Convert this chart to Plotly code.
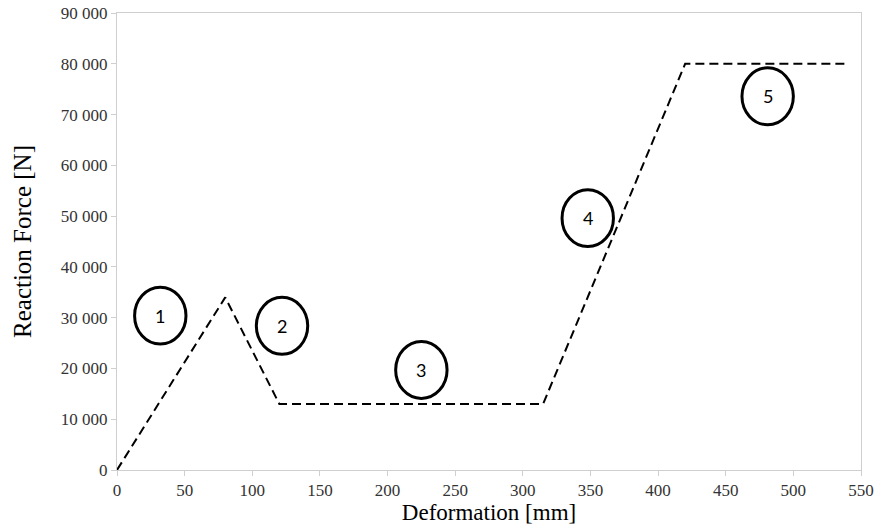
import plotly.graph_objects as go

deformation_mm = [0, 80, 120, 315, 420, 540]
reaction_force_n = [0, 34000, 13000, 13000, 80000, 80000]

phase_labels = ["1", "2", "3", "4", "5"]
phase_x = [32, 122, 225, 348, 481]
phase_y = [30400, 28400, 19700, 49600, 73600]

x_ticks = [0, 50, 100, 150, 200, 250, 300, 350, 400, 450, 500, 550]
y_ticks = [0, 10000, 20000, 30000, 40000, 50000, 60000, 70000, 80000, 90000]

SERIF = "Liberation Serif, Times New Roman, serif"

fig = go.Figure()
fig.add_trace(go.Scatter(
    x=deformation_mm, y=reaction_force_n, mode="lines",
    line=dict(color="black", width=2, dash="9px,5px"),
    showlegend=False, hoverinfo="skip"))

rx, ry = 19, 5600
for lab, cx, cy in zip(phase_labels, phase_x, phase_y):
    fig.add_shape(type="circle", xref="x", yref="y",
                  x0=cx - rx, x1=cx + rx, y0=cy - ry, y1=cy + ry,
                  line=dict(color="black", width=3))
    fig.add_annotation(x=cx, y=cy, text=lab, showarrow=False,
                       font=dict(family="Lato, Liberation Sans", size=18, color="black"))

axis_common = dict(showline=True, linecolor="#cfcfcf", linewidth=1, mirror=True,
                   showgrid=False, zeroline=False, ticks="outside", ticklen=5,
                   tickcolor="#cfcfcf", automargin=False, ticklabeloverflow="allow",
                   tickfont=dict(family=SERIF, size=17, color="#333333"))

fig.update_xaxes(range=[0, 550], tickvals=x_ticks, ticktext=[str(v) for v in x_ticks],
                 title=dict(text="Deformation [mm]", standoff=9,
                            font=dict(family=SERIF, size=23, color="black")),
                 **axis_common)
fig.update_yaxes(range=[0, 90000], tickvals=y_ticks, tickformat=",d",
                 title=dict(text="Reaction Force [N]", standoff=22,
                            font=dict(family=SERIF, size=25, color="black")),
                 **axis_common)

fig.update_layout(width=875, height=525, separators=". ",
                  plot_bgcolor="white", paper_bgcolor="white",
                  margin=dict(l=117, r=14, t=13, b=55))

fig.write_html("out.html", config={"displayModeBar": False},
               post_script="document.body.style.margin='0';")
